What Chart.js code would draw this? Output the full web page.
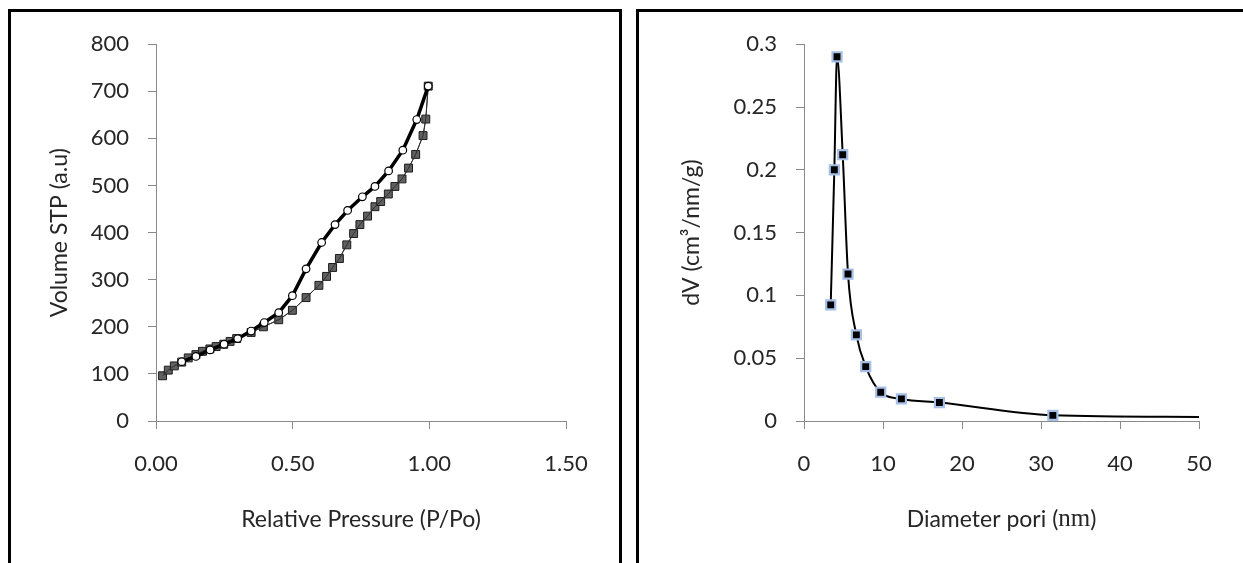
<!DOCTYPE html>
<html>
<head>
<meta charset="utf-8">
<script src="https://cdn.jsdelivr.net/npm/chart.js@4.4.1/dist/chart.umd.min.js"></script>
<style>
    html, body { margin: 0; padding: 0; background: #fff; overflow: hidden; }
    body { width: 1243px; height: 563px; position: relative; }
    .panel { position: absolute; border: 3px solid #000; border-bottom: none; box-sizing: border-box; }
    canvas { position: absolute; }
</style>
</head>
<body>
<div class="panel" style="left:8px; top:9px; width:614px; height:580px;"></div>
<div class="panel" style="left:636px; top:9px; width:700px; height:580px;"></div>
<canvas id="isothermChart" width="608" height="551" style="left:11px; top:12px;"></canvas>
<canvas id="poreChart" width="604" height="551" style="left:639px; top:12px;"></canvas>

<script>
// Isotherm data
const adsorptionP = [0.024, 0.045, 0.067, 0.094, 0.118, 0.146, 0.170, 0.197, 0.220, 0.248, 0.271, 0.295,
    0.348, 0.393, 0.449, 0.499, 0.549, 0.596, 0.624, 0.646, 0.671, 0.698, 0.723, 0.746, 0.774,
    0.801, 0.822, 0.850, 0.874, 0.900, 0.924, 0.950, 0.977, 0.987, 0.996];
const adsorptionV = [96, 108, 117, 125, 134, 141, 148, 153, 158, 163, 169, 175,
    188, 200, 215, 235, 262, 288, 307, 326, 345, 374, 398, 417, 435,
    455, 466, 482, 498, 514, 537, 566, 606, 641, 711];

const desorptionP = [0.996, 0.954, 0.903, 0.851, 0.801, 0.755, 0.701, 0.655, 0.606, 0.549,
    0.499, 0.449, 0.396, 0.348, 0.299, 0.249, 0.198, 0.146, 0.094];
const desorptionV = [711, 640, 575, 531, 498, 476, 447, 417, 379, 323,
    266, 230, 209, 191, 175, 163, 151, 137, 126];

// Pore size distribution
const poreDiameter = [3.38, 3.84, 4.18, 4.90, 5.57, 6.63, 7.81, 9.71, 12.33, 17.14, 31.5, 50];
const poreVolume = [0.0925, 0.200, 0.290, 0.212, 0.117, 0.0686, 0.0433, 0.0229, 0.0176, 0.0147, 0.0045, 0.0032];

// Tick values and labels
const pressureTicks = [0, 0.5, 1.0, 1.5];
const pressureTickLabels = ['0.00', '0.50', '1.00', '1.50'];
const volumeTicks = [0, 100, 200, 300, 400, 500, 600, 700, 800];
const volumeTickLabels = ['0', '100', '200', '300', '400', '500', '600', '700', '800'];
const diameterTicks = [0, 10, 20, 30, 40, 50];
const diameterTickLabels = ['0', '10', '20', '30', '40', '50'];
const dvTicks = [0, 0.05, 0.1, 0.15, 0.2, 0.25, 0.3];
const dvTickLabels = ['0', '0.05', '0.1', '0.15', '0.2', '0.25', '0.3'];

const FONT = 'Lato, "Open Sans", sans-serif';
const AXIS_GRAY = '#8a8a8a';
const TEXT = '#262626';
const TICK_SIZE = 22;
const TITLE_SIZE = 23;

function toXY(xs, ys) {
    return xs.map((x, i) => ({ x: x, y: ys[i] }));
}

// Shared axis builder (Excel-like: gray axis, outside ticks, no grid)
function makeAxis(ticks, labels, min, max, fixedSize, title, titlePad, tickPad) {
    return {
        type: 'linear',
        min: min,
        max: max,
        afterBuildTicks: scale => { scale.ticks = ticks.map(v => ({ value: v })); },
        afterFit: scale => {
            if (scale.isHorizontal()) scale.height = fixedSize; else scale.width = fixedSize;
        },
        border: { display: true, color: AXIS_GRAY, width: 1 },
        grid: { drawOnChartArea: false, drawTicks: true, tickLength: 8, color: AXIS_GRAY },
        ticks: {
            color: TEXT,
            font: { family: FONT, size: TICK_SIZE },
            padding: tickPad,
            maxRotation: 0,
            autoSkip: false,
            callback: (value, index) => labels[index]
        },
        title: {
            display: title !== null,
            text: title || '',
            color: TEXT,
            font: { family: FONT, size: TITLE_SIZE },
            padding: titlePad
        }
    };
}

// "Diameter pori (nm)" has the unit set in a serif face, so draw it in parts
const mixedTitle = {
    id: 'mixedTitle',
    afterDraw(chart) {
        const { ctx, chartArea } = chart;
        const parts = [
            { text: 'Diameter pori (', font: TITLE_SIZE + 'px ' + FONT },
            { text: 'nm', font: (TITLE_SIZE + 2) + 'px "Liberation Serif", "DejaVu Serif", serif' },
            { text: ')', font: TITLE_SIZE + 'px ' + FONT }
        ];
        ctx.save();
        let total = 0;
        parts.forEach(p => { ctx.font = p.font; p.w = ctx.measureText(p.text).width; total += p.w; });
        let x = (chartArea.left + chartArea.right) / 2 - total / 2;
        const y = chart.scales.x.bottom - TITLE_SIZE * 0.6 - 30;
        ctx.fillStyle = TEXT;
        ctx.textBaseline = 'middle';
        ctx.textAlign = 'left';
        parts.forEach(p => { ctx.font = p.font; ctx.fillText(p.text, x, y); x += p.w; });
        ctx.restore();
    }
};

const baseOptions = {
    responsive: false,
    animation: false,
    events: [],
    plugins: { legend: { display: false }, tooltip: { enabled: false } }
};

// Left: adsorption / desorption isotherm
new Chart(document.getElementById('isothermChart'), {
    type: 'line',
    data: {
        datasets: [{
            // desorption, on top
            data: toXY(desorptionP, desorptionV),
            borderColor: '#000',
            borderWidth: 3.5,
            pointStyle: 'circle',
            pointRadius: 3.8,
            pointBackgroundColor: '#fff',
            pointBorderColor: '#000',
            pointBorderWidth: 1.2,
            tension: 0
        }, {
            // thin line over the squares (gives the diagonal look)
            data: toXY(adsorptionP, adsorptionV),
            borderColor: '#2e2e2e',
            borderWidth: 1,
            pointRadius: 0,
            tension: 0
        }, {
            // adsorption markers
            data: toXY(adsorptionP, adsorptionV),
            borderColor: '#3a3a3a',
            borderWidth: 1,
            pointStyle: 'rect',
            pointRadius: 5.6,
            pointBackgroundColor: '#606060',
            pointBorderColor: '#1c1c1c',
            pointBorderWidth: 1,
            tension: 0
        }]
    },
    options: Object.assign({}, baseOptions, {
        layout: { padding: { left: 0, top: 28, right: 53, bottom: 0 } },
        scales: {
            x: makeAxis(pressureTicks, pressureTickLabels, 0, 1.5, 142, 'Relative Pressure (P/Po)', { top: 0, bottom: 30 }, 22),
            y: makeAxis(volumeTicks, volumeTickLabels, 0, 800, 145, 'Volume STP (a.u)', { top: 35, bottom: 0 }, 19)
        }
    })
});

// Right: pore size distribution
new Chart(document.getElementById('poreChart'), {
    type: 'line',
    data: {
        datasets: [{
            data: toXY(poreDiameter, poreVolume),
            borderColor: '#000',
            borderWidth: 2,
            cubicInterpolationMode: 'monotone',
            pointStyle: 'rect',
            pointRadius: ctx => (ctx.dataIndex === poreDiameter.length - 1 ? 0 : 6.4),
            pointBackgroundColor: '#000',
            pointBorderColor: '#a6bfe6',
            pointBorderWidth: 2.2
        }]
    },
    options: Object.assign({}, baseOptions, {
        layout: { padding: { left: 0, top: 28.7, right: 44, bottom: 0 } },
        scales: {
            x: makeAxis(diameterTicks, diameterTickLabels, 0, 50, 142, null, { top: 0, bottom: 30 }, 22),
            y: makeAxis(dvTicks, dvTickLabels, 0, 0.3, 165, 'dV (cm³/nm/g)', { top: 39, bottom: 0 }, 19)
        }
    }),
    plugins: [mixedTitle]
});
</script>
</body>
</html>
